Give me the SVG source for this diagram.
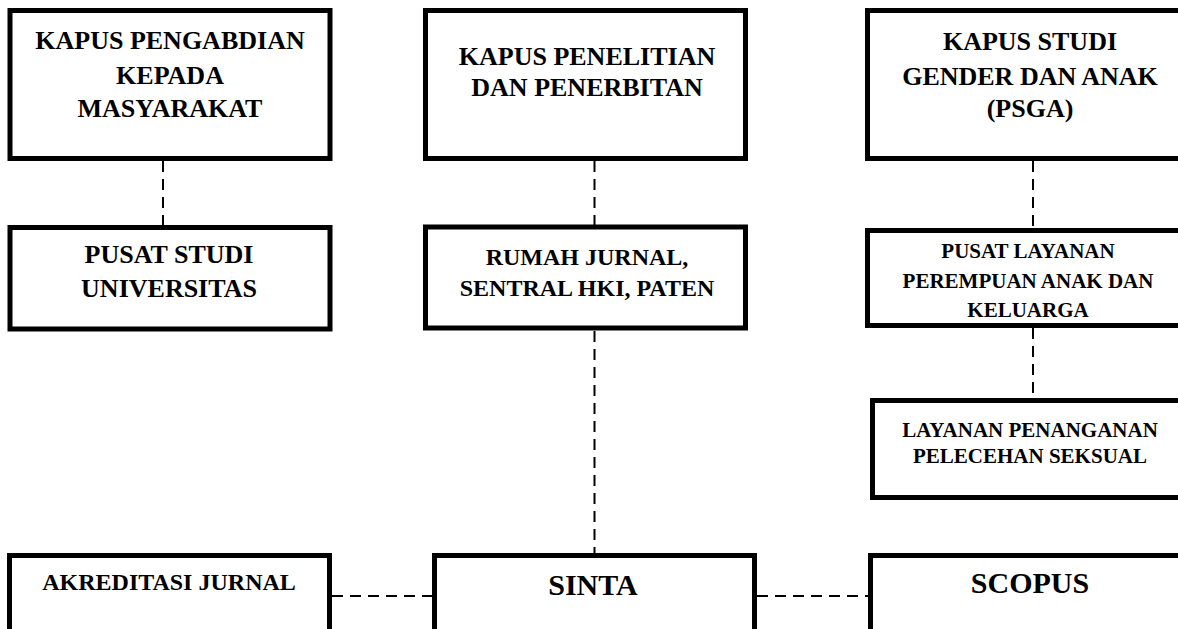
<svg xmlns="http://www.w3.org/2000/svg" width="1178" height="629" viewBox="0 0 1178 629">
<style>
.box{fill:#fff;stroke:#000;stroke-width:5}
.t{font-family:"Liberation Serif","Times New Roman",serif;font-weight:bold;fill:#000;text-anchor:middle}
.f26{font-size:26px}
.f24{font-size:24px}
.f21{font-size:21px}
.f30{font-size:30px}
.c{stroke:#000;stroke-width:2;stroke-dasharray:11 7;fill:none}
</style>
<rect width="1178" height="629" fill="#fff"/>
<g id="connectors">
<line class="c" x1="163" y1="161" x2="163" y2="225"/>
<line class="c" x1="594.5" y1="161" x2="594.5" y2="225"/>
<line class="c" x1="1033" y1="161" x2="1033" y2="228"/>
<line class="c" x1="594.5" y1="331" x2="594.5" y2="553"/>
<line class="c" x1="1033" y1="328" x2="1033" y2="398"/>
<line class="c" x1="332" y1="596" x2="432" y2="596"/>
<line class="c" x1="757" y1="596" x2="868" y2="596"/>
</g>
<g id="kapus-pengabdian">
<rect class="box" x="10" y="10.5" width="320" height="148"/>
<text class="t f26" x="170" y="49">KAPUS PENGABDIAN</text>
<text class="t f26" x="170" y="84">KEPADA</text>
<text class="t f26" x="170" y="117">MASYARAKAT</text>
</g>
<g id="kapus-penelitian">
<rect class="box" x="425.5" y="10.5" width="320" height="148"/>
<text class="t f26" x="587" y="65">KAPUS PENELITIAN</text>
<text class="t f26" x="587" y="96">DAN PENERBITAN</text>
</g>
<g id="kapus-gender">
<rect class="box" x="867.5" y="10.5" width="330" height="148"/>
<text class="t f26" x="1030" y="50">KAPUS STUDI</text>
<text class="t f26" x="1030" y="85">GENDER DAN ANAK</text>
<text class="t f26" x="1030" y="117">(PSGA)</text>
</g>
<g id="pusat-studi">
<rect class="box" x="10" y="227.5" width="320" height="101.5"/>
<text class="t f26" x="169" y="263">PUSAT STUDI</text>
<text class="t f26" x="169" y="297">UNIVERSITAS</text>
</g>
<g id="rumah-jurnal">
<rect class="box" x="425.5" y="227" width="320" height="101"/>
<text class="t f24" x="587" y="265">RUMAH JURNAL,</text>
<text class="t f24" x="587" y="296">SENTRAL HKI, PATEN</text>
</g>
<g id="pusat-layanan">
<rect class="box" x="867.5" y="230.5" width="330" height="95"/>
<text class="t f21" x="1028" y="258">PUSAT LAYANAN</text>
<text class="t f21" x="1028" y="288">PEREMPUAN ANAK DAN</text>
<text class="t f21" x="1028" y="317">KELUARGA</text>
</g>
<g id="layanan-penanganan">
<rect class="box" x="872.5" y="400.5" width="325" height="97"/>
<text class="t f21" x="1030" y="437">LAYANAN PENANGANAN</text>
<text class="t f21" x="1030" y="463">PELECEHAN SEKSUAL</text>
</g>
<g id="akreditasi">
<rect class="box" x="9.5" y="555.5" width="320" height="110"/>
<text class="t f24" x="169" y="590">AKREDITASI JURNAL</text>
</g>
<g id="sinta">
<rect class="box" x="434.5" y="555.5" width="320" height="110"/>
<text class="t f30" x="593" y="595">SINTA</text>
</g>
<g id="scopus">
<rect class="box" x="870.5" y="555.5" width="330" height="110"/>
<text class="t f30" x="1030" y="593">SCOPUS</text>
</g>
</svg>
